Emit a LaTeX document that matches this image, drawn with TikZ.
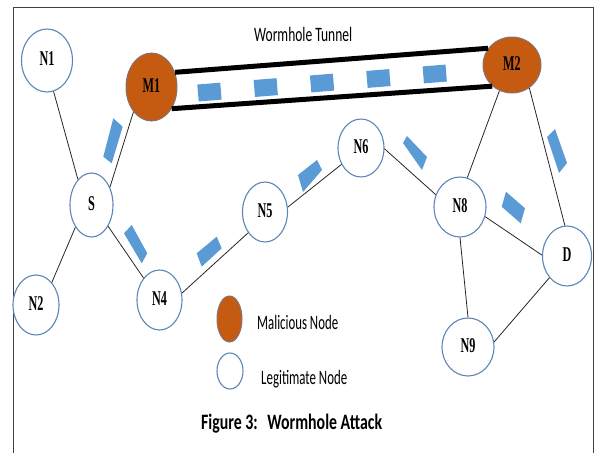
\documentclass[tikz,border=0pt]{standalone}
\usepackage{fontspec}
\setmainfont{Liberation Serif}
\newfontfamily\calib{Carlito}
\usepackage{graphicx}
\usetikzlibrary{shapes.geometric}
\definecolor{malorange}{HTML}{C55A11}
\definecolor{rimblue}{HTML}{5B86B8}
\definecolor{pktblue}{HTML}{5B9BD5}
\definecolor{framegray}{HTML}{404040}
\newcommand{\nlab}[1]{\raisebox{3pt}{\scalebox{0.58}[1]{\fontsize{21}{21}\selectfont\bfseries #1}}\hspace{9pt}}
\newcommand{\sqtext}[2]{\resizebox{#1}{\height}{#2}}
\begin{document}
\begin{tikzpicture}[x=1pt,y=-1pt,
  legit/.style={ellipse, draw=rimblue, line width=1.1pt, fill=white, inner sep=0pt},
  malic/.style={ellipse, draw=rimblue!60!malorange, line width=1pt, fill=malorange, inner sep=0pt},
  link/.style={draw=black!85, line width=0.8pt},
  tunnel/.style={draw=black, line width=5pt},
  pkt/.style={fill=pktblue},
  lbl/.style={inner sep=0pt, anchor=base west}]
\useasboundingbox (0,0) rectangle (595,453);
\draw[framegray, line width=1pt] (13,453) -- (13,7) -- (593,7) -- (593,453);

% network nodes
\node[legit, minimum width=51pt, minimum height=63pt] (N1) at (47,60.5) {\nlab{N1}};
\node[malic, minimum width=51pt, minimum height=68pt] (M1) at (151.5,87) {\nlab{M1}};
\node[malic, minimum width=58pt, minimum height=56pt] (M2) at (512,65) {\nlab{M2}};
\node[legit, minimum width=43pt, minimum height=64pt] (S) at (91.5,205) {\nlab{S}};
\node[legit, minimum width=46pt, minimum height=60pt] (N2) at (36,305) {\nlab{N2}};
\node[legit, minimum width=45pt, minimum height=60pt] (N4) at (159.5,300) {\nlab{N4}};
\node[legit, minimum width=45pt, minimum height=60pt] (N5) at (265,212) {\nlab{N5}};
\node[legit, minimum width=46pt, minimum height=58pt] (N6) at (361,148) {\nlab{N6}};
\node[legit, minimum width=52pt, minimum height=60pt] (N8) at (460,207) {\nlab{N8}};
\node[legit, minimum width=49pt, minimum height=60pt] (D) at (567,256) {\nlab{D}};
\node[legit, minimum width=52pt, minimum height=58pt] (N9) at (468,347) {\nlab{N9}};

% links
\draw[link] (N1.-78) -- (S.118);
\draw[link] (S.44) -- (M1.234);
\draw[link] (S.234) -- (N2.55);
\draw[link] (S.-52) -- (N4.126);
\draw[link] (N4.17) -- (N5.231);
\draw[link] (N5.12) -- (N6.220);
\draw[link] (N6.-2) -- (N8.153);
\draw[link] (N8.76) -- (M2.244);
\draw[link] (M2.-53) -- (D.94);
\draw[link] (N8.-21) -- (D.178);
\draw[link] (N8.-90) -- (N9.90);
\draw[link] (N9.11) -- (D.231);

% wormhole tunnel
\draw[tunnel] (M1.32) -- (M2.145);
\draw[tunnel] (M1.-47) -- (M2.-133);
\coordinate (t1) at (198,93);
\coordinate (t2) at (447,73);
\draw[pktblue, line width=17pt, dash pattern=on 23pt off 33.5pt] (t1) -- (t2);

% packets along the paths
\fill[pkt] (113.3,118.3) -- (122.7,126.7) -- (111.7,163.3) -- (103.3,156.7) -- cycle;
\fill[pkt] (124,233.3) -- (131.7,225) -- (147.3,253.3) -- (141.7,263.3) -- cycle;
\fill[pkt] (196.7,253.3) -- (216.7,236.7) -- (221.7,248.3) -- (201.7,266.7) -- cycle;
\fill[pkt] (298,175) -- (317,160) -- (322,170) -- (303,192) -- cycle;
\fill[pkt] (403,143) -- (407,136) -- (427,157) -- (422,170) -- cycle;
\fill[pkt] (501.7,206.7) -- (506,191.7) -- (525,208.3) -- (520.7,223.3) -- cycle;
\fill[pkt] (547,137) -- (555,129) -- (567,163) -- (559,173) -- cycle;

% texts
\node[lbl] (tt) at (254,41) {\sqtext{98pt}{\calib\fontsize{20.5}{20.5}\selectfont Wormhole Tunnel}};

% legend
\node[malic, minimum width=25pt, minimum height=46pt] (lm) at (229.5,319) {};
\node[legit, minimum width=26pt, minimum height=36pt] (ll) at (230,371) {};
\node[lbl] (lmt) at (257,329.5) {\sqtext{81pt}{\calib\fontsize{20.5}{20.5}\selectfont Malicious Node}};
\node[lbl] (llt) at (261,384) {\sqtext{86pt}{\calib\fontsize{20.5}{20.5}\selectfont Legitimate Node}};
\node[lbl] (cap) at (201,429) {\sqtext{181pt}{\calib\bfseries\fontsize{22}{22}\selectfont Figure 3:\hspace{0.6em}Wormhole Attack}};
\end{tikzpicture}
\end{document}
